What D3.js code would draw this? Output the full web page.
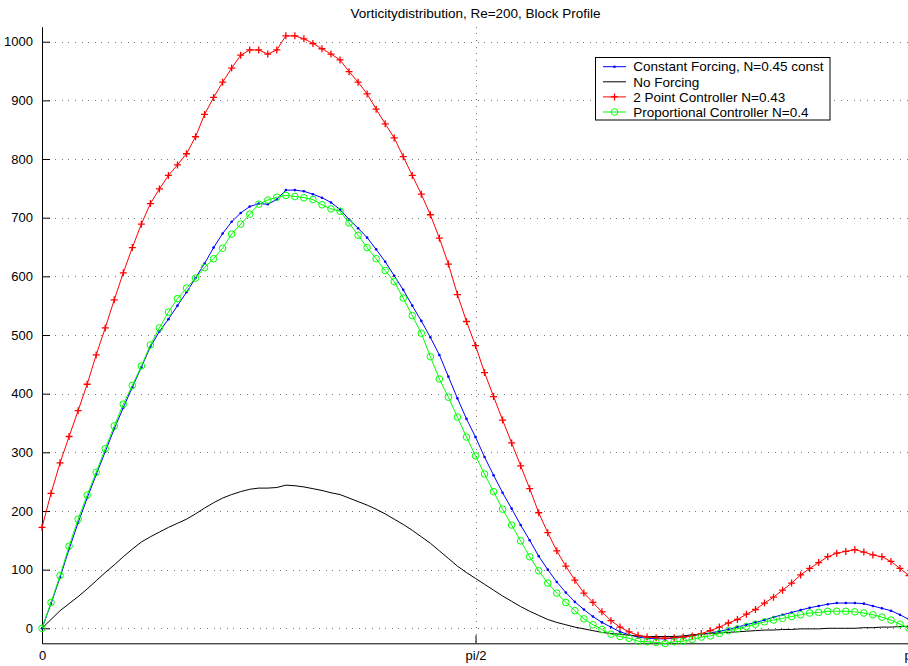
<!DOCTYPE html>
<html>
<head>
<meta charset="utf-8">
<script src="https://cdn.jsdelivr.net/npm/d3@7"></script>
<style>
  html, body { margin: 0; padding: 0; background: #fff; overflow: hidden; }
  svg { display: block; font-family: "Liberation Sans", Arial, Helvetica, sans-serif; }
</style>
</head>
<body>
<svg id="chart" width="908" height="666"></svg>
<script>
// Vorticity distribution along the block surface, angle 0..pi, 97 samples.
const nPoints = 97;

const constantForcing = [
  0, 42, 87, 135, 180, 222, 262, 301, 340, 376, 411, 445, 480, 506, 527, 550,
  573, 597, 622, 649, 673, 693, 708, 719, 724, 723, 731, 747, 747, 745, 740, 734,
  726, 714, 697, 682, 666, 646, 625, 601, 577, 550, 524, 496, 466, 429, 392, 357,
  326, 292, 261, 231, 204, 176, 150, 123, 100, 79, 61, 45, 32, 20, 10, 2,
  -6, -11, -15, -17, -18, -18, -17, -15, -13, -10, -8, -5, -2, 2, 6, 10,
  14, 19, 23, 27, 31, 35, 38, 41, 43, 43, 43, 42, 38, 34, 30, 23, 15
];

const noForcing = [
  0, 15, 30, 42, 54, 67, 81, 95, 108, 122, 135, 147, 156, 164, 172, 179,
  186, 195, 205, 214, 222, 228, 233, 237, 239, 239, 240, 244, 243, 241, 238, 235,
  231, 228, 222, 216, 210, 203, 195, 186, 177, 167, 156, 145, 132, 119, 106, 95,
  85, 75, 65, 55, 46, 37, 29, 22, 15, 10, 6, 2, -1, -4, -7, -9,
  -10, -12, -13, -14, -14, -14, -14, -13, -11, -10, -9, -8, -7, -6, -5, -4,
  -3, -3, -2, -2, -1, -1, -1, 0, 0, 0, 0, 1, 1, 2, 2, 3, 3
];

const twoPointController = [
  172, 230, 282, 327, 371, 416, 466, 512, 560, 606, 649, 689, 724, 749, 772, 790,
  809, 838, 876, 905, 931, 955, 977, 986, 986, 979, 986, 1010, 1010, 1005, 997, 988,
  979, 969, 949, 931, 911, 885, 860, 836, 804, 772, 740, 705, 665, 621, 569, 523,
  482, 436, 395, 355, 316, 277, 238, 197, 163, 132, 106, 82, 60, 44, 28, 13,
  2, -6, -12, -15, -16, -17, -16, -15, -13, -9, -4, 2, 9, 15, 24, 32,
  43, 53, 65, 77, 91, 102, 112, 122, 128, 131, 134, 130, 125, 122, 114, 102, 90
];

const proportionalController = [
  0, 44, 90, 140, 186, 227, 266, 306, 345, 382, 414, 447, 483, 512, 539, 562,
  580, 597, 615, 630, 648, 672, 689, 706, 723, 730, 735, 738, 736, 734, 731, 722,
  715, 711, 691, 670, 649, 630, 610, 591, 563, 533, 503, 463, 425, 394, 360, 326,
  294, 263, 233, 203, 176, 149, 122, 98, 77, 60, 44, 30, 16, 6, -2, -10,
  -14, -17, -22, -23, -24, -26, -23, -22, -19, -15, -13, -9, -4, -1, 3, 7,
  11, 14, 17, 20, 23, 26, 27, 29, 29, 29, 28, 26, 23, 19, 14, 7, 0
];

const seriesNames = [
  "Constant Forcing, N=0.45 const",
  "No Forcing",
  "2 Point Controller N=0.43",
  "Proportional Controller N=0.4"
];
const seriesColors = ["#0000ff", "#000000", "#ff0000", "#00ff00"];
const seriesMarkers = ["dot", "none", "plus", "circle"];

const yTicks = [0, 100, 200, 300, 400, 500, 600, 700, 800, 900, 1000];
const xTicks = [0, Math.PI / 2, Math.PI];
const xTickLabels = ["0", "pi/2", "pi"];
const titleText = "Vorticitydistribution, Re=200, Block Profile";

const xs = d3.range(nPoints).map(i => i * Math.PI / (nPoints - 1));
const allSeries = [constantForcing, noForcing, twoPointController, proportionalController];

const svg = d3.select("#chart");
const plot = { left: 42, right: 909, top: 26.7, bottom: 643.3 };

const x = d3.scaleLinear().domain([0, Math.PI]).range([plot.left, plot.right]);
const y = d3.scaleLinear().domain([-25.6, 1025.6]).range([plot.bottom, plot.top]);

// dotted grid
const grid = svg.append("g").attr("stroke", "#777").attr("stroke-width", 1)
  .attr("stroke-dasharray", "1,5.6").attr("shape-rendering", "crispEdges");
grid.selectAll("line.h").data(yTicks).join("line").attr("class", "h")
  .attr("x1", plot.left).attr("x2", plot.right)
  .attr("y1", d => Math.round(y(d)) + 0.5).attr("y2", d => Math.round(y(d)) + 0.5);
grid.selectAll("line.v").data(xTicks.slice(1)).join("line").attr("class", "v")
  .attr("x1", d => Math.round(x(d)) + 0.5).attr("x2", d => Math.round(x(d)) + 0.5)
  .attr("y1", plot.top).attr("y2", plot.bottom);

// axes
const yAxis = d3.axisLeft(y).tickValues(yTicks).tickFormat(d3.format("d"))
  .tickSizeInner(-8).tickSizeOuter(0).tickPadding(9);
const xAxis = d3.axisBottom(x).tickValues(xTicks).tickFormat((d, i) => xTickLabels[i])
  .tickSizeInner(-8).tickSizeOuter(0).tickPadding(7);

const gy = svg.append("g").attr("transform", `translate(${plot.left},0)`).call(yAxis);
const gx = svg.append("g").attr("transform", `translate(0,${plot.bottom})`).call(xAxis);
[gx, gy].forEach(g => {
  g.selectAll("text").attr("font-size", 13).attr("fill", "#000")
    .attr("font-family", "'Liberation Sans', Arial, sans-serif");
  g.selectAll("line, path").attr("stroke", "#000");
});

// series
const line = d3.line().x((d, i) => x(xs[i])).y(d => y(d));
allSeries.forEach((vals, s) => {
  const g = svg.append("g");
  g.append("path").datum(vals).attr("d", line)
    .attr("fill", "none").attr("stroke", seriesColors[s]).attr("stroke-width", 1);
  const pts = vals.map((v, i) => [x(xs[i]), y(v)]);
  if (seriesMarkers[s] === "dot") {
    g.selectAll("circle").data(pts).join("circle")
      .attr("cx", d => d[0]).attr("cy", d => d[1]).attr("r", 1.3)
      .attr("fill", seriesColors[s]);
  } else if (seriesMarkers[s] === "plus") {
    g.selectAll("path.m").data(pts).join("path").attr("class", "m")
      .attr("d", d => `M${d[0] - 3.5},${d[1]}H${d[0] + 3.5}M${d[0]},${d[1] - 3.5}V${d[1] + 3.5}`)
      .attr("stroke", seriesColors[s]).attr("stroke-width", 1.3).attr("fill", "none");
  } else if (seriesMarkers[s] === "circle") {
    g.selectAll("circle").data(pts).join("circle")
      .attr("cx", d => d[0]).attr("cy", d => d[1]).attr("r", 3.3)
      .attr("fill", "none").attr("stroke", seriesColors[s]).attr("stroke-width", 1);
  }
});

// title
svg.append("text").attr("x", (plot.left + plot.right) / 2).attr("y", 17.8)
  .attr("text-anchor", "middle").attr("font-size", 13.5).text(titleText);

// legend
const lg = svg.append("g").attr("transform", "translate(595.5,57.5)");
lg.append("rect").attr("width", 234.5).attr("height", 62.5)
  .attr("fill", "#fff").attr("stroke", "#000").attr("stroke-width", 1);
seriesNames.forEach((name, s) => {
  const cy = 9.2 + s * 15.1;
  const row = lg.append("g");
  row.append("line").attr("x1", 7.5).attr("x2", 30.5).attr("y1", cy).attr("y2", cy)
    .attr("stroke", seriesColors[s]).attr("stroke-width", 1);
  if (seriesMarkers[s] === "dot") {
    row.append("circle").attr("cx", 19).attr("cy", cy).attr("r", 1.3).attr("fill", seriesColors[s]);
  } else if (seriesMarkers[s] === "plus") {
    row.append("path").attr("d", `M15.5,${cy}H22.5M19,${cy - 3.5}V${cy + 3.5}`)
      .attr("stroke", seriesColors[s]).attr("stroke-width", 1.3);
  } else if (seriesMarkers[s] === "circle") {
    row.append("circle").attr("cx", 19).attr("cy", cy).attr("r", 3.3)
      .attr("fill", "none").attr("stroke", seriesColors[s]);
  }
  row.append("text").attr("x", 37.8).attr("y", cy).attr("dy", "0.35em")
    .attr("font-size", 13.5).text(name);
});
</script>
</body>
</html>
